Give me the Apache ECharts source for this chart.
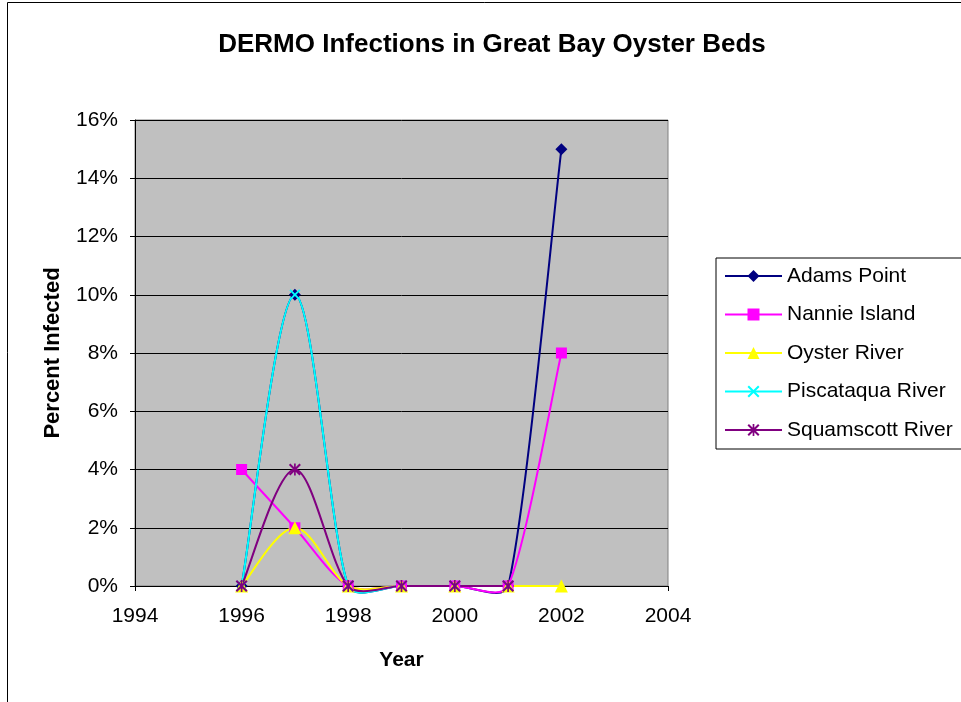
<!DOCTYPE html>
<html>
<head>
<meta charset="utf-8">
<script src="https://cdn.jsdelivr.net/npm/echarts@6/dist/echarts.min.js"></script>
<style>html,body{margin:0;padding:0;background:#fff;}#c{width:961px;height:702px;}</style>
</head>
<body>
<div id="c"></div>
<script>
const years = [1996, 1997, 1998, 1999, 2000, 2001, 2002];
const adamsPoint = [0, 0.10, 0, 0, 0, 0, 0.15];
const nannieIsland = [0.04, 0.02, 0, 0, 0, 0, 0.08];
const oysterRiver = [0, 0.02, 0, 0, 0, 0, 0];
const piscataquaRiver = [0, 0.10, 0, 0, 0, 0, null];
const squamscottRiver = [0, 0.04, 0, 0, 0, 0, null];
const seriesNames = ['Adams Point', 'Nannie Island', 'Oyster River', 'Piscataqua River', 'Squamscott River'];
const xTicks = [1994, 1996, 1998, 2000, 2002, 2004];
const yTicks = [0, 0.02, 0.04, 0.06, 0.08, 0.10, 0.12, 0.14, 0.16];

const FONT = 'Liberation Sans, Arial, sans-serif';
const X_PATH = 'path://M0,1.2 L1.2,0 L5,3.8 L8.8,0 L10,1.2 L6.2,5 L10,8.8 L8.8,10 L5,6.2 L1.2,10 L0,8.8 L3.8,5 Z';
const STAR_PATH = 'path://M0,1.2 L1.2,0 L5,3.8 L8.8,0 L10,1.2 L6.2,5 L10,8.8 L8.8,10 L5,6.2 L1.2,10 L0,8.8 L3.8,5 Z M4.3,0 L5.7,0 L5.7,10 L4.3,10 Z';

function pairs(vals) {
  return years.map((y, i) => [y, vals[i]]).filter(p => p[1] !== null);
}

const styles = [
  { color: '#000080', symbol: 'diamond', size: 12 },
  { color: '#FF00FF', symbol: 'rect', size: 11 },
  { color: '#FFFF00', symbol: 'triangle', size: 13 },
  { color: '#00FFFF', symbol: X_PATH, size: 11 },
  { color: '#800080', symbol: STAR_PATH, size: 12 }
];
const allData = [adamsPoint, nannieIsland, oysterRiver, piscataquaRiver, squamscottRiver];

function dist(a, b) { return Math.hypot(a[0] - b[0], a[1] - b[1]); }

// Excel-style smoothed curve through the pixel positions of the points
function smoothSegments(pts) {
  const segs = [];
  for (let i = 0; i < pts.length - 1; i++) {
    const p0 = pts[Math.max(i - 1, 0)], p1 = pts[i], p2 = pts[i + 1], p3 = pts[Math.min(i + 2, pts.length - 1)];
    const d02 = dist(p0, p2), d12 = dist(p1, p2), d13 = dist(p1, p3);
    const lim = d12 * 0.3;
    let f = 1 / 6, g = 1 / 6;
    if (d02 * f > lim) f = lim / d02;
    if (d13 * g > lim) g = lim / d13;
    segs.push({
      x1: p1[0], y1: p1[1], x2: p2[0], y2: p2[1],
      cpx1: p1[0] + f * (p2[0] - p0[0]), cpy1: p1[1] + f * (p2[1] - p0[1]),
      cpx2: p2[0] - g * (p3[0] - p1[0]), cpy2: p2[1] - g * (p3[1] - p1[1])
    });
  }
  return segs;
}

const markerSeries = allData.map((d, i) => ({
  name: seriesNames[i],
  type: 'line',
  data: pairs(d),
  z: 3 + i * 0.01,
  clip: false,
  symbol: styles[i].symbol,
  symbolSize: styles[i].size,
  showAllSymbol: true,
  lineStyle: { color: styles[i].color, width: 2, opacity: 0 },
  itemStyle: { color: styles[i].color, borderWidth: 0 },
  emphasis: { disabled: true },
  silent: true
}));

const curveSeries = allData.map((d, i) => ({
  name: seriesNames[i],
  type: 'custom',
  coordinateSystem: 'cartesian2d',
  data: pairs(d),
  z: 2,
  clip: false,
  silent: true,
  renderItem: function (params, api) {
    if (params.dataIndex !== 0) return null;
    const pts = pairs(d).map(p => api.coord(p));
    return {
      type: 'group',
      children: smoothSegments(pts).map(s => ({
        type: 'bezierCurve',
        shape: s,
        style: { stroke: styles[i].color, lineWidth: 2, fill: null }
      }))
    };
  }
}));

const chart = echarts.init(document.getElementById('c'));
chart.setOption({
  animation: false,
  backgroundColor: '#fff',
  textStyle: { fontFamily: FONT },
  title: {
    text: 'DERMO Infections in Great Bay Oyster Beds',
    left: 487, top: 27, textAlign: 'center',
    textStyle: { fontSize: 26, fontWeight: 'bold', color: '#000', fontFamily: FONT }
  },
  graphic: [{
    type: 'rect', silent: true, z: -1,
    shape: { x: 7.5, y: 2.5, width: 1000, height: 1000 },
    style: { fill: 'none', stroke: '#000', lineWidth: 1 }
  }],
  grid: {
    left: 135, top: 120, right: 293, bottom: 116,
    show: true, backgroundColor: '#C0C0C0', borderColor: '#808080', borderWidth: 1
  },
  legend: {
    orient: 'vertical', left: 716, top: 258,
    padding: [6, 30, 7, 8], itemGap: 14.5,
    itemWidth: 57, itemHeight: 15,
    borderColor: '#000', borderWidth: 1, backgroundColor: '#fff',
    textStyle: { fontSize: 21, color: '#000', lineHeight: 24, fontFamily: FONT },
    data: seriesNames.map((n, i) => ({
      name: n,
      lineStyle: { color: styles[i].color, width: 2, opacity: 1 },
      itemStyle: { color: styles[i].color, opacity: 1 }
    }))
  },
  xAxis: {
    type: 'value', min: xTicks[0], max: xTicks[xTicks.length - 1], interval: 2,
    name: 'Year', nameLocation: 'middle', nameGap: 64,
    nameTextStyle: { fontSize: 21, fontWeight: 'bold', color: '#000', fontFamily: FONT },
    axisLine: { show: true, onZero: false, lineStyle: { color: '#000', width: 1 } },
    axisTick: { show: true, length: 5, lineStyle: { color: '#000' } },
    axisLabel: { fontSize: 21, color: '#000', margin: 20, formatter: v => String(v) },
    splitLine: { show: false }
  },
  yAxis: {
    type: 'value', min: yTicks[0], max: yTicks[yTicks.length - 1], interval: 0.02,
    name: 'Percent Infected', nameLocation: 'middle', nameGap: 71, nameRotate: 90,
    nameTextStyle: { fontSize: 22, fontWeight: 'bold', color: '#000', fontFamily: FONT },
    axisLine: { show: true, lineStyle: { color: '#000', width: 1 } },
    axisTick: { show: true, length: 5, lineStyle: { color: '#000' } },
    axisLabel: { fontSize: 21, color: '#000', margin: 17, formatter: v => Math.round(v * 100) + '%' },
    splitLine: { show: true, lineStyle: { color: '#000', width: 1 } }
  },
  series: markerSeries.concat(curveSeries)
});
</script>
</body>
</html>
